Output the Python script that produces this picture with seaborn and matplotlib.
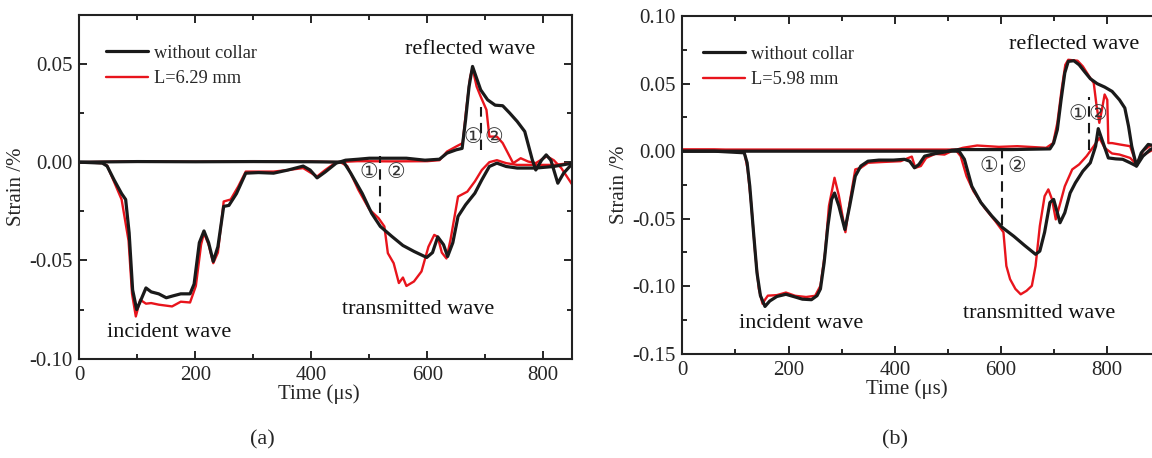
import numpy as np
import pandas as pd
import seaborn as sns
import matplotlib.pyplot as plt

# ---- panel (a) data (time in us, strain in %) ----
a_blk_inc_t = [0, 40, 48, 60, 73, 80, 86, 92, 99, 105, 115, 124, 137, 150, 162, 175, 191, 198, 207, 215, 223,
               231, 239, 249, 258, 271, 287, 309, 335, 360, 386, 398, 410, 424, 443, 459, 481, 500, 532, 564,
               596, 621, 634, 650, 660, 666, 672, 678, 685, 692, 704, 717, 730, 742, 755, 768, 781, 787, 797,
               805, 813, 825, 835, 848]
a_blk_inc_y = [0, -0.0005, -0.002, -0.009, -0.016, -0.019, -0.036, -0.065, -0.075, -0.071, -0.064, -0.066,
               -0.067, -0.069, -0.068, -0.067, -0.067, -0.062, -0.041, -0.035, -0.041, -0.0505, -0.043, -0.0225,
               -0.022, -0.016, -0.0056, -0.0053, -0.0056, -0.004, -0.002, -0.004, -0.008, -0.005, -0.0005, 0.001,
               0.0015, 0.002, 0.002, 0.002, 0.001, 0.0015, 0.0046, 0.0063, 0.007, 0.0215, 0.0385, 0.0487, 0.0427,
               0.0368, 0.0317, 0.029, 0.0287, 0.025, 0.0207, 0.0156, 0.0012, -0.004, 0.001, 0.0037, 0.001,
               -0.0107, -0.0056, -0.0014]
a_blk_tra_t = [0, 100, 200, 300, 400, 456, 468, 488, 504, 519, 539, 558, 577, 599, 609, 618, 628, 635, 644,
               653, 666, 682, 694, 707, 720, 736, 755, 787, 818, 850]
a_blk_tra_y = [0, 0.0003, 0.0002, 0.0003, 0.0002, 0, -0.0056, -0.016, -0.026, -0.0327, -0.0378, -0.0424,
               -0.0454, -0.0485, -0.046, -0.038, -0.042, -0.048, -0.041, -0.0276, -0.0217, -0.0158, -0.009,
               -0.0022, -0.0005, -0.0022, -0.003, -0.003, -0.0022, -0.0005]
a_red_inc_t = [0, 40, 48, 73, 85, 91, 97.5, 105, 115, 124, 137, 160, 175, 191, 201, 210, 215, 223, 231, 239,
               249, 261, 274, 287, 309, 335, 360, 386, 398, 410, 424, 443, 480, 540, 600, 621, 634, 650, 661,
               667, 674, 678, 685, 692, 702, 707, 720, 730, 739, 748, 761, 774, 787, 806, 818, 831, 850]
a_red_inc_y = [0, -0.0005, -0.0017, -0.019, -0.04, -0.067, -0.0785, -0.07, -0.072, -0.0717, -0.0725,
               -0.0734, -0.071, -0.0714, -0.063, -0.042, -0.036, -0.042, -0.0514, -0.046, -0.02, -0.019, -0.0124,
               -0.0048, -0.0048, -0.0048, -0.004, -0.003, -0.0052, -0.0073, -0.004, 0, 0.0005, 0.0004, 0.0005,
               0.001, 0.0054, 0.008, 0.0097, 0.0266, 0.0436, 0.0478, 0.0385, 0.0334, 0.0266, 0.013, 0.013,
               0.0097, 0.0046, -0.0005, 0.002, 0.0003, -0.0005, 0.003, 0.001, -0.003, -0.0115]
a_red_tra_t = [0, 100, 200, 300, 400, 450, 462, 481, 500, 516, 526, 532, 542, 551, 558, 564, 577, 590, 602,
               612, 618, 625, 633, 640, 653, 669, 682, 694, 707, 720, 736, 755, 787, 818, 848]
a_red_tra_y = [0, 0.0004, 0.0002, 0.0004, 0.0003, 0, -0.002, -0.014, -0.024, -0.0285, -0.0327, -0.0463,
               -0.0514, -0.0615, -0.0587, -0.063, -0.0607, -0.0556, -0.043, -0.037, -0.038, -0.046, -0.049,
               -0.0395, -0.0175, -0.015, -0.0098, -0.004, 0, 0.001, -0.0005, -0.0014, -0.0014, -0.0014, -0.0005]

# ---- panel (b) data ----
b_blk_inc_t = [0, 60, 116.5, 122, 127, 134, 140.5, 147, 155.6, 164.5, 178, 195, 212.5, 226, 243, 253.6, 260,
               267, 274, 281, 286.5, 294.7, 306, 315, 325.6, 336, 349.5, 370, 397.5, 418, 428, 437, 445.5, 456,
               473, 493.5, 507, 521, 560, 620, 692, 699, 706, 713, 720, 726.5, 737, 747, 757, 768, 781, 795,
               809, 823, 833, 840, 846, 855, 864, 877, 890]
b_blk_inc_y = [0, 0, -0.0012, -0.0086, -0.026, -0.06, -0.09, -0.107, -0.115, -0.111, -0.1076, -0.106, -0.108,
               -0.1096, -0.11, -0.107, -0.102, -0.0825, -0.0554, -0.0357, -0.031, -0.0406, -0.058, -0.0406,
               -0.0185, -0.011, -0.0074, -0.0066, -0.0066, -0.006, -0.0074, -0.0123, -0.0098, -0.0037, -0.002,
               -0.0007, 0.0007, 0.0012, 0.0012, 0.0012, 0.0017, 0.006, 0.016, 0.038, 0.058, 0.0665, 0.067, 0.064,
               0.059, 0.0537, 0.05, 0.0475, 0.0443, 0.038, 0.032, 0.0185, 0.0037, -0.011, -0.0012, 0.005, 0.004]
b_blk_tra_t = [0, 150, 300, 450, 521, 531, 545, 562, 582.6, 603, 624, 644, 665, 673, 682, 692, 699, 706, 711,
               720, 730, 740, 754, 768, 778, 783, 790, 802, 816, 829, 843, 855, 867, 881, 890]
b_blk_tra_y = [0, 0, 0, 0, 0, -0.006, -0.026, -0.038, -0.048, -0.0567, -0.063, -0.0697, -0.0764, -0.074,
               -0.06, -0.038, -0.0357, -0.0456, -0.053, -0.0456, -0.031, -0.0234, -0.0148, -0.0086, 0.0037,
               0.0167, 0.0086, -0.005, -0.0057, -0.006, -0.0086, -0.011, -0.0037, 0.0012, 0.003]
b_red_inc_t = [0, 60, 116.5, 123, 130, 137, 144, 151, 155.6, 161, 178, 195, 212.5, 233, 250, 260, 268.7,
               276, 286.5, 294.7, 307, 315, 325.6, 336, 349.5, 377, 411, 432, 438.6, 449, 459, 476, 493.5, 507,
               528, 555, 596, 630.6, 685, 698, 706, 714, 721, 726.5, 744, 754, 766, 774.5, 780, 785, 790, 795,
               800, 802, 809, 823, 843, 855, 864, 881, 890]
b_red_inc_y = [0.0012, 0.0012, 0, -0.0135, -0.0406, -0.075, -0.102, -0.113, -0.11, -0.107, -0.1066, -0.1047,
               -0.1071, -0.108, -0.1071, -0.0997, -0.075, -0.0406, -0.0197, -0.033, -0.06, -0.038, -0.0135,
               -0.0123, -0.0086, -0.008, -0.0074, -0.004, -0.0123, -0.011, -0.005, -0.002, -0.0025, 0, 0.0025,
               0.0042, 0.0032, 0.0037, 0.0025, 0.006, 0.021, 0.0456, 0.064, 0.0677, 0.067, 0.0628, 0.0554,
               0.0505, 0.033, 0.021, 0.031, 0.042, 0.038, 0.006, 0.006, 0.005, 0.0037, -0.0098, -0.0037, 0,
               0.002]
b_red_tra_t = [0, 150, 300, 450, 514, 524, 535, 548, 569, 589, 604.5, 610, 617, 627, 637, 648, 658, 665, 673,
               682, 689, 696, 703, 710, 720, 734, 747, 761, 774.5, 785, 795, 809, 823, 843, 855, 867, 881, 890]
b_red_tra_y = [0.0012, 0.0012, 0.0012, 0.0012, 0.0012, -0.0037, -0.0185, -0.0296, -0.042, -0.0517, -0.06,
               -0.085, -0.0948, -0.102, -0.106, -0.1034, -0.0997, -0.085, -0.0554, -0.0333, -0.0283, -0.0357,
               -0.0505, -0.0406, -0.026, -0.0135, -0.0098, -0.0037, 0.0037, 0.0098, 0.0025, -0.0017, -0.0025,
               -0.005, -0.0098, 0.0002, 0.004, 0.005]

# dashed markers: x, y_top, y_bottom ; circled-number label positions
a_dash_x, a_dash_top, a_dash_bot = [519, 692], [0.003, 0.028], [-0.026, 0.006]
a_num_x, a_num_y = [500, 545, 678, 714], [-0.005, -0.005, 0.013, 0.013]
b_dash_x, b_dash_top, b_dash_bot = [602, 765.6], [0.0, 0.04], [-0.055, 0.001]
b_num_x, b_num_y = [577, 629, 745, 783], [-0.011, -0.011, 0.0276, 0.0276]
num_labels = ["①", "②", "①", "②"]

sns.set_style("ticks")
plt.rcParams["font.family"] = ["Liberation Serif", "DejaVu Serif"]
BLACK, RED = "#1a1a1a", "#e8141c"


def make_frame(t_inc, y_inc, t_tra, y_tra):
    return pd.concat([pd.DataFrame({"time": t_inc, "strain": y_inc, "gauge": "incident"}),
                      pd.DataFrame({"time": t_tra, "strain": y_tra, "gauge": "transmitted"})],
                     ignore_index=True)


def draw_panel(ax, red_df, blk_df, red_label, xlim, ylim, yticks, texts, dash, nums, leg_x, xlab_x):
    sns.lineplot(data=red_df, x="time", y="strain", units="gauge", estimator=None, sort=False,
                 color=RED, lw=1.7, ax=ax)
    sns.lineplot(data=blk_df, x="time", y="strain", units="gauge", estimator=None, sort=False,
                 color=BLACK, lw=2.3, ax=ax)
    h_blk = plt.Line2D([], [], color=BLACK, lw=2.3)
    h_red = plt.Line2D([], [], color=RED, lw=1.7)
    ax.legend([h_blk, h_red], ["without collar", red_label], loc="upper left",
              bbox_to_anchor=(leg_x, 0.95), frameon=False, fontsize=13.2, handlelength=2.3,
              handletextpad=0.3, labelspacing=0.45, borderpad=0.2)
    ax.set_xlim(*xlim)
    ax.set_ylim(*ylim)
    ax.set_yticks(yticks)
    ax.set_yticklabels([f"{v:.2f}" for v in yticks])
    ax.set_xticks([0, 200, 400, 600, 800])
    ax.set_xticks(np.arange(100, xlim[1], 200), minor=True)
    ax.set_yticks(np.array(yticks[:-1]) + 0.025, minor=True)
    ax.tick_params(which="both", direction="in", top=True, right=True, labelsize=15, width=1.4)
    ax.tick_params(axis="x", pad=5)
    ax.tick_params(axis="y", pad=5)
    ax.tick_params(which="major", length=6)
    ax.tick_params(which="minor", length=3.5)
    for s in ax.spines.values():
        s.set_linewidth(1.5)
        s.set_color("#222222")
    ax.set_xlabel("Time (μs)", fontsize=15, labelpad=0)
    ax.xaxis.label.set_x(xlab_x)
    ax.set_ylabel("Strain /%", fontsize=15, labelpad=2)
    for txt, x, y in texts:
        ax.text(x, y, txt, fontsize=16, ha="center", va="center", color="#111111")
    dx, dtop, dbot = dash
    ax.vlines(dx, dbot, dtop, colors=BLACK, linestyles=(0, (5, 3)), lw=1.5)
    nx, ny = nums
    for lab, x, y in zip(num_labels, nx, ny):
        ax.text(x, y, lab, fontsize=15, ha="center", va="center", color="#333333",
                family=["DejaVu Sans", "Noto Sans CJK SC"])


fig = plt.figure(figsize=(11.52, 4.58), dpi=100)
ax_a = fig.add_axes([0.0688, 0.2168, 0.428, 0.751])
ax_b = fig.add_axes([0.5923, 0.2277, 0.415, 0.737])

draw_panel(ax_a, make_frame(a_red_inc_t, a_red_inc_y, a_red_tra_t, a_red_tra_y),
           make_frame(a_blk_inc_t, a_blk_inc_y, a_blk_tra_t, a_blk_tra_y), "L=6.29 mm",
           (0, 850), (-0.10, 0.075), [-0.10, -0.05, 0.00, 0.05],
           [("reflected wave", 674, 0.0575), ("transmitted wave", 585, -0.075), ("incident wave", 155, -0.0866)],
           (a_dash_x, a_dash_top, a_dash_bot), (a_num_x, a_num_y), 0.028, 0.485)
draw_panel(ax_b, make_frame(b_red_inc_t, b_red_inc_y, b_red_tra_t, b_red_tra_y),
           make_frame(b_blk_inc_t, b_blk_inc_y, b_blk_tra_t, b_blk_tra_y), "L=5.98 mm",
           (0, 900), (-0.15, 0.10), [-0.15, -0.10, -0.05, 0.00, 0.05, 0.10],
           [("reflected wave", 738, 0.0788), ("transmitted wave", 672, -0.12), ("incident wave", 224, -0.1276)],
           (b_dash_x, b_dash_top, b_dash_bot), (b_num_x, b_num_y), 0.017, 0.47)

fig.text(262 / 1152, 1 - 440 / 458, "(a)", fontsize=16, ha="center", va="center")
fig.text(895 / 1152, 1 - 440 / 458, "(b)", fontsize=16, ha="center", va="center")

fig.savefig("out.png", dpi=100)
